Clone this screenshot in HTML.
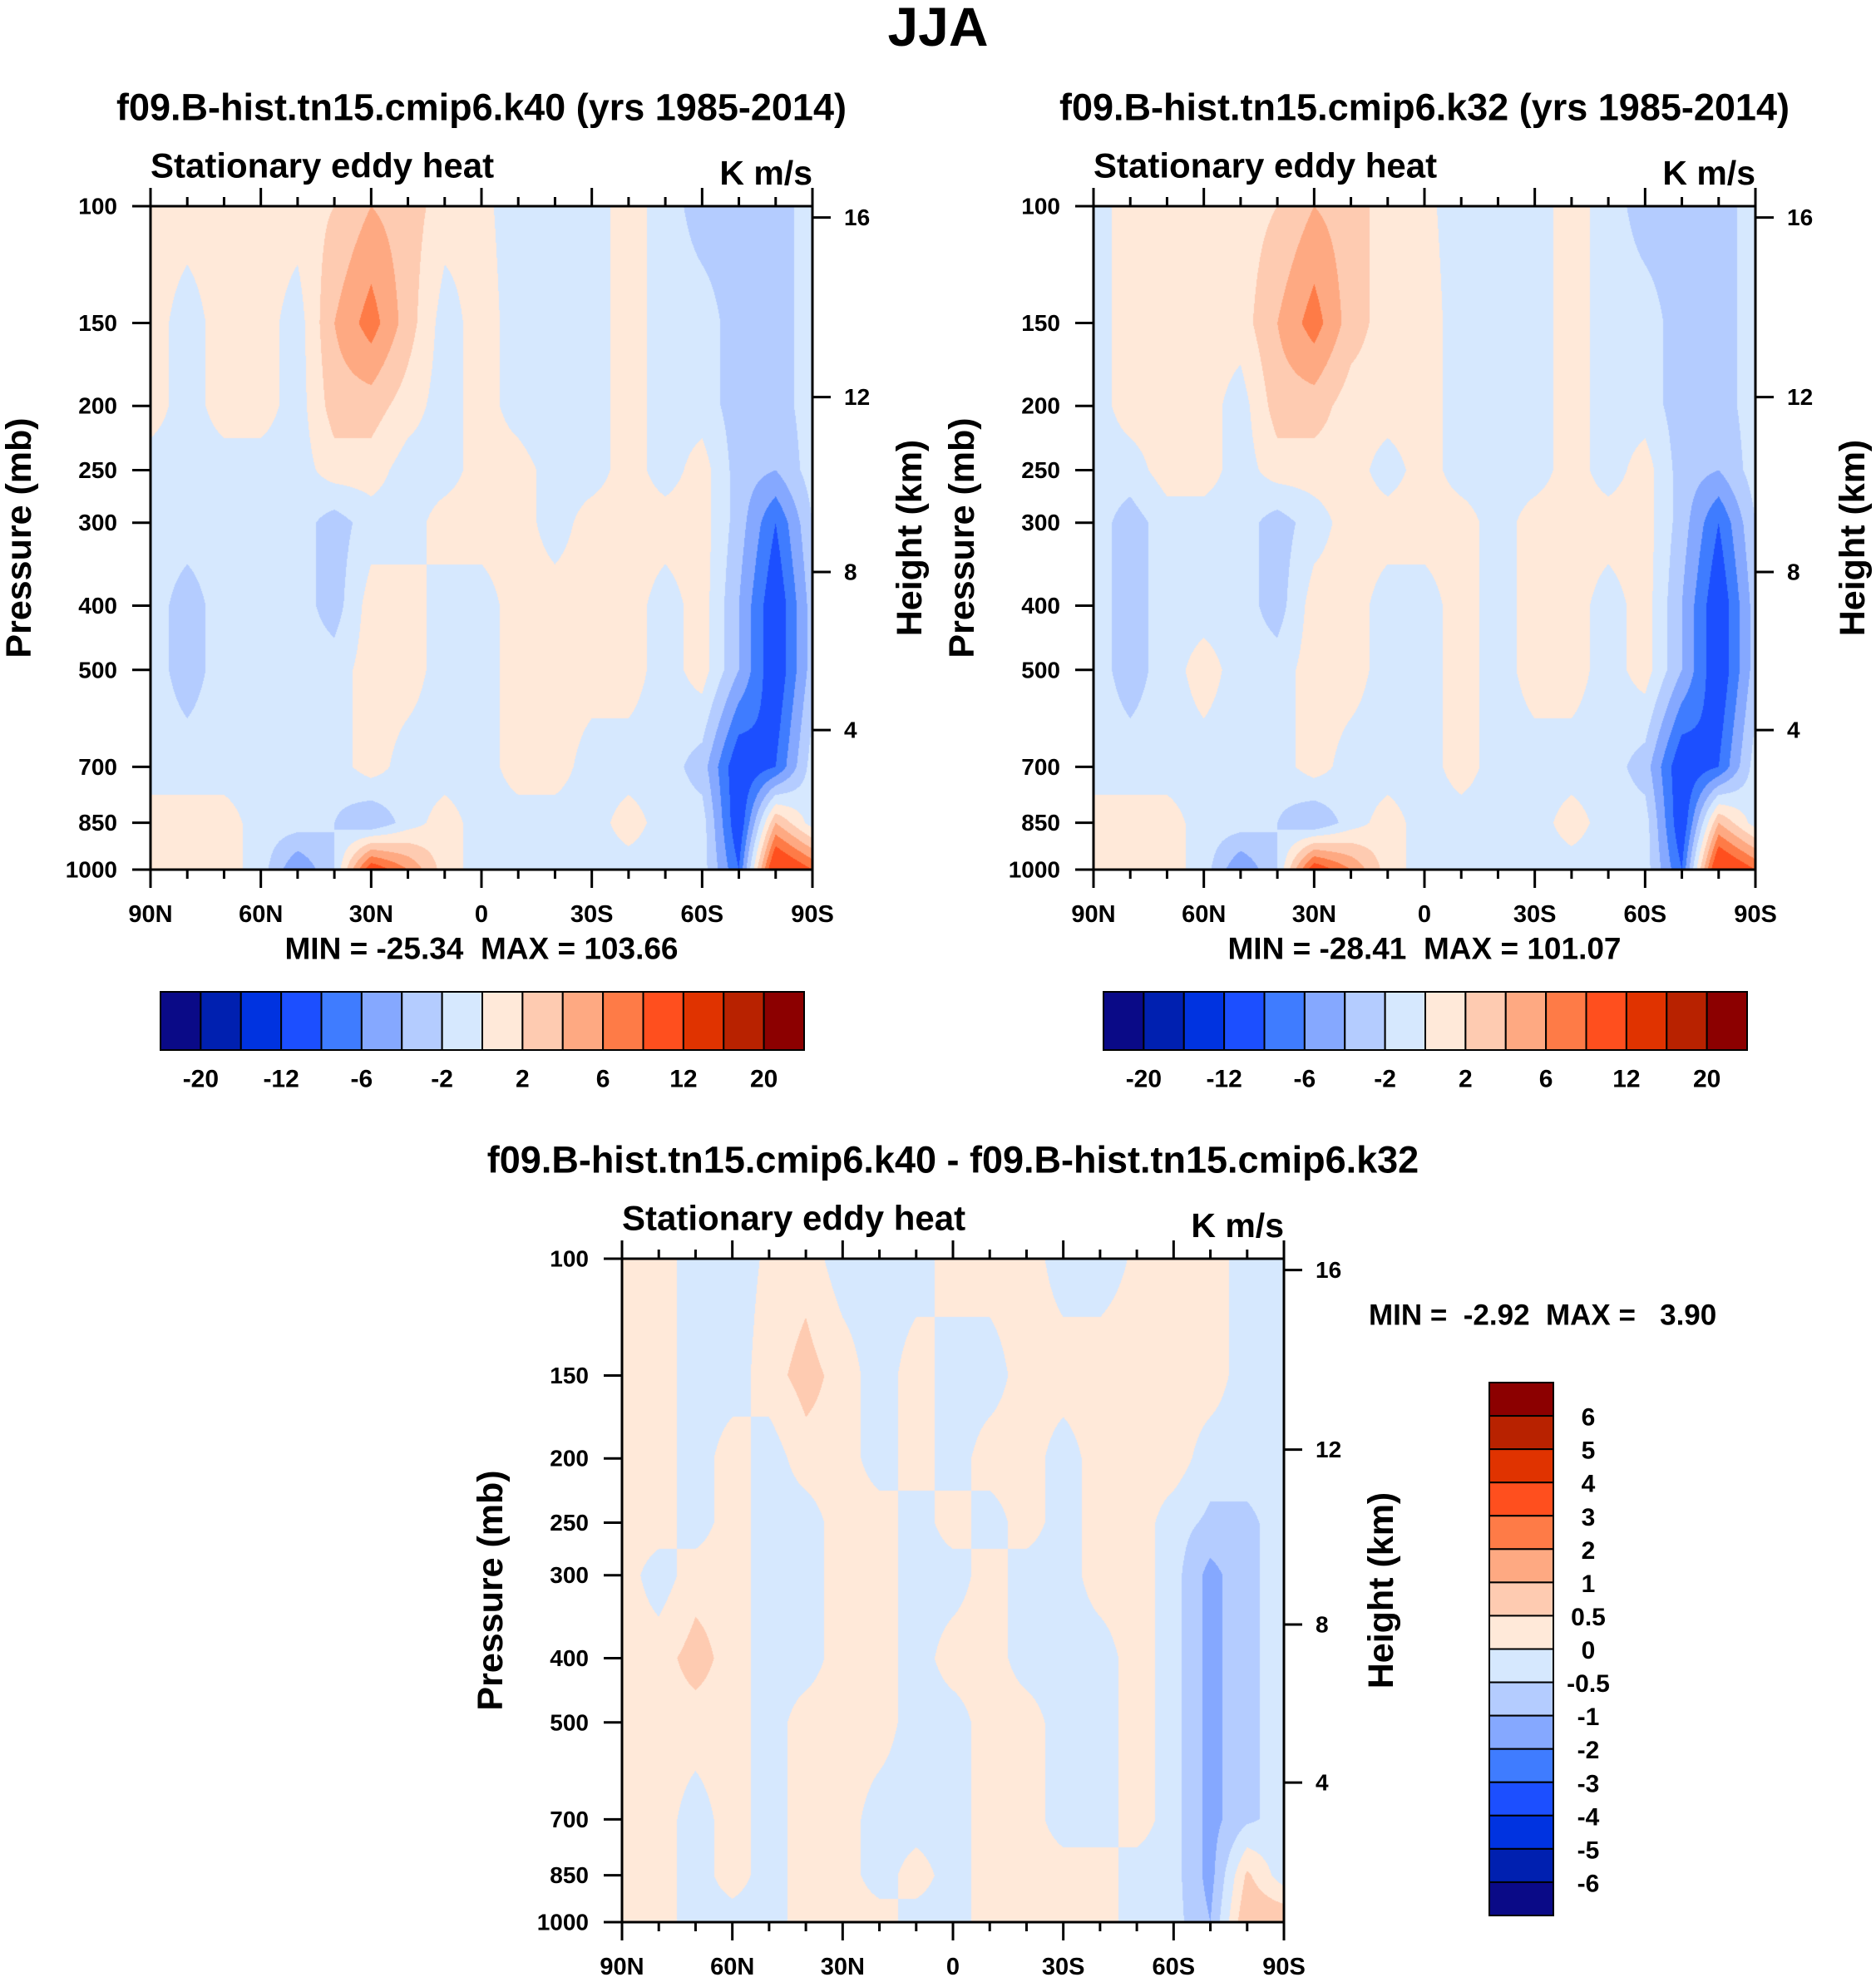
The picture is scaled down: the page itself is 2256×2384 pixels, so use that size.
<!DOCTYPE html>
<html><head><meta charset="utf-8"><style>
html,body{margin:0;padding:0;background:#fff}
#root{position:relative;width:2256px;height:2384px;overflow:hidden;font-family:"Liberation Sans",sans-serif}
canvas{position:absolute}
svg{position:absolute;left:0;top:0}
text{white-space:pre}
</style></head><body>
<div id="root">
<canvas id="c1"></canvas>
<canvas id="c2"></canvas>
<canvas id="c3"></canvas>
<svg id="svg" width="2256" height="2384"></svg>
</div>
<script>
// ---- data ----
const lats = [90,80,70,60,50,40,30,20,10,0,-10,-20,-30,-40,-50,-60,-70,-80,-90];
const pressures = [100,150,200,250,300,400,500,700,850,1000];
const latTickLabels = ["90N","60N","30N","0","30S","60S","90S"];
const pTicks = [100,150,200,250,300,400,500,700,850,1000];
const heightKm = [16,12,8,4];
const heightP = [104,194,356,616];
const colors = ["#0a0a87","#0020b0","#0033e0","#1c4fff","#3f7cff","#85a8ff","#b4ccff","#d6e8fe","#ffe9d9","#fecbb1","#fea982","#fe7b47","#ff4f1e","#e03300","#b82200","#8c0000"];
const levelsMain = [-20,-16,-12,-8,-6,-4,-2,0,2,4,6,8,12,16,20];
const levelsMainLabels = ["-20","-12","-6","-2","2","6","12","20"];
const levelsDiff = [-6,-5,-4,-3,-2,-1,-0.5,0,0.5,1,2,3,4,5,6];
const levelsDiffLabels = ["6","5","4","3","2","1","0.5","0","-0.5","-1","-2","-3","-4","-5","-6"];
const k40Field = [
[1,1,1,1,1,2,4,3,1,0.5,-1,-1,-1,1,-1,-3,-3,-3,-1],
[1,-1,1,1,-1,4,7,3,-1,1,-1,-1,-1,1,-1,-1,-3,-3,-1],
[1,-1,1,1,-1,3,3,1,-1,1,-1,-2,-1,1,-1,-1,-3,-3,-1],
[-1,-1,-1,-1,-1,1,1,-1,-1,1,1,-1,-1,1,-1,1,-3,-4,-1],
[-1,-1,-1,-1,-1,-3,-1,-1,1,1,1,-1,1,1,1,1,-3,-8,-2],
[-1,-3,-1,-1,-1,-3,1,1,-1,-1,1,1,1,1,-1,1,-4,-10,-3],
[-1,-3,-1,-1,-1,-1,1,1,-1,-1,1,1,1,1,-1,1,-4,-10,-3],
[-1,-1,-1,-1,-1,-1,1,-1,-1,-1,1,1,-1,-1,-1,-3,-10,-8,-1],
[1,1,1,-1,-1,-2,-4,-1,1,-1,-1,-1,-1,1,-1,-1,-10,4,-1],
[1,1,1,-1,-6,-2,10,6,1,-1,-2,-2,-1,-1,-1,-1,-8,12,8]];
const k32Field = [
[-1,1,1,1,1,2,4,3,1,0.5,-1,-1,-1,1,-1,-3,-3,-3,-1],
[-1,1,1,1,1,4,7,3,1,1,-1,-1,-1,1,-1,-1,-3,-3,-1],
[-1,1,1,1,-1,3,3,1,1,1,-1,-2,-1,1,-1,-1,-3,-3,-1],
[-1,-1,1,1,-1,1,1,1,-1,1,-1,-1,-1,1,-1,1,-3,-4,-1],
[-1,-3,-1,-1,-1,-3,-1,1,1,1,1,-1,1,1,1,1,-3,-8,-2],
[-1,-3,-1,-1,-1,-3,1,1,-1,-1,1,-1,1,1,-1,1,-4,-10,-3],
[-1,-3,-1,1,-1,-1,1,1,-1,-1,1,-1,1,1,-1,1,-4,-10,-3],
[-1,-1,-1,-1,-1,-1,1,-1,-1,-1,1,-1,-1,-1,-1,-3,-10,-8,-1],
[1,1,1,-1,-1,-2,-4,-1,1,-1,-1,-1,-1,1,-1,-1,-10,4,-1],
[1,1,1,-1,-6,-2,10,6,1,-1,-2,-2,-1,-1,-1,-1,-8,12,8]];
const diffField = [
[.3,.3,-.3,-.3,.1,.3,-.3,-.3,-.3,.3,.3,.3,-.3,-.3,.1,.3,.3,-.3,-.3],
[.3,.3,-.3,-.3,.3,.7,.3,-.3,.3,-.3,-.3,.3,.3,.3,.3,.3,.3,-.3,-.3],
[.3,.3,-.3,.3,-.3,.3,.3,-.3,.3,-.3,.3,.3,-.3,.3,.3,.3,-.3,-.3,-.3],
[.3,.3,-.3,.3,-.3,-.3,.3,.3,-.3,.3,-.3,.3,-.3,.3,.3,-.3,-.6,-.6,-.3],
[.3,-.3,.3,.3,-.3,-.3,.3,.3,-.3,-.3,.3,-.3,-.3,.3,.3,-.3,-1.2,-.6,-.3],
[.3,.3,.7,.3,-.3,-.3,.3,.3,-.3,.3,.3,-.3,-.3,-.3,.3,-.3,-1.2,-.6,-.3],
[.3,.3,.3,.3,-.3,.3,.3,.3,-.3,-.3,.3,.3,-.3,-.3,.3,-.3,-1.2,-.6,-.3],
[.3,.3,-.3,.3,-.3,.3,.3,-.3,-.3,-.3,.3,.3,-.3,-.3,.3,-.3,-1.2,-.6,-.3],
[.3,.3,-.3,.3,-.3,.3,.3,-.3,.3,-.3,.3,.3,.3,.3,-.3,-.3,-1.2,.6,-.3],
[.3,.3,-.3,-.3,-.3,.3,.3,.3,-.3,-.3,.3,.3,.3,.3,-.3,-.3,-1,1,1]];

// ---- rendering ----
const NS="http://www.w3.org/2000/svg";
const svg=document.getElementById('svg');
function mk(tag,attrs,parent){const e=document.createElementNS(NS,tag);for(const k in attrs)e.setAttribute(k,attrs[k]);(parent||svg).appendChild(e);return e;}
function txt(s,x,y,size,anchor,extra){const t=mk('text',Object.assign({x:x,y:y,'font-size':size,'font-weight':'bold','text-anchor':anchor||'middle','dominant-baseline':'central','font-family':'Liberation Sans, sans-serif',fill:'#000'},extra||{}));t.textContent=s;return t;}

function colorFor(v,levels){let i=0;while(i<levels.length&&v>=levels[i])i++;return colors[i];}
function hex(c){return [parseInt(c.slice(1,3),16),parseInt(c.slice(3,5),16),parseInt(c.slice(5,7),16)];}

function drawPanel(P){
  const W=P.r-P.l,H=P.b-P.t;
  const xOf=lat=>P.l+(90-lat)/180*W;
  const yOf=p=>P.t+(Math.log10(p)-2)*H;
  const cv=document.getElementById(P.canvas);
  cv.width=W;cv.height=H;cv.style.left=P.l+'px';cv.style.top=P.t+'px';
  const ctx=cv.getContext('2d');const img=ctx.createImageData(W,H);
  const lp=pressures.map(p=>Math.log10(p));
  for(let y=0;y<H;y++){
    const l=2+(y+0.5)/H;
    let j=0;while(j<lp.length-2&&l>lp[j+1])j++;
    let fy=(l-lp[j])/(lp[j+1]-lp[j]);fy=Math.max(0,Math.min(1,fy));
    for(let x=0;x<W;x++){
      const lat=90-(x+0.5)/W*180;
      let fi=(90-lat)/10;let i=Math.min(17,Math.floor(fi));let fx=fi-i;
      const F=P.field;
      const v=(F[j][i]*(1-fx)+F[j][i+1]*fx)*(1-fy)+(F[j+1][i]*(1-fx)+F[j+1][i+1]*fx)*fy;
      const c=hex(colorFor(v,P.levels));const k=(y*W+x)*4;
      img.data[k]=c[0];img.data[k+1]=c[1];img.data[k+2]=c[2];img.data[k+3]=255;
    }
  }
  ctx.putImageData(img,0,0);
  const fr=mk('rect',{x:P.l,y:P.t,width:W,height:H,fill:'none',stroke:'#000','stroke-width':3});
  
  
  for(let lat=90;lat>=-90;lat-=10){
    const x=xOf(lat);const major=lat%30===0;const L=major?22:11;
    mk('line',{x1:x,y1:P.t,x2:x,y2:P.t-L,stroke:'#000','stroke-width':3});
    mk('line',{x1:x,y1:P.b,x2:x,y2:P.b+L,stroke:'#000','stroke-width':3});
  }
  latTickLabels.forEach((s,i)=>{
    const t=txt(s,xOf(90-i*30),P.b+54,29);
    
    
  });
  pTicks.forEach(p=>{
    const y=yOf(p);
    mk('line',{x1:P.l,y1:y,x2:P.l-22,y2:y,stroke:'#000','stroke-width':3});
    const t=txt(String(p),P.l-40,y,28,'end');
    
    
  });
  heightKm.forEach((km,i)=>{
    const y=yOf(heightP[i]);
    mk('line',{x1:P.r,y1:y,x2:P.r+22,y2:y,stroke:'#000','stroke-width':3});
    const t=txt(String(km),P.r+38,y,28,'start');
    
    
  });
  let t=txt(P.title,(P.l+P.r)/2,P.t-119,45);
  
  
  t=txt('Stationary eddy heat',P.l,P.t-49,42,'start');
  
  
  t=txt('K m/s',P.r,P.t-40,41,'end');
  
  
  t=txt('Pressure (mb)',0,0,43,'middle',{transform:`translate(${P.l-158},${(P.t+P.b)/2}) rotate(-90)`});
  
  
  t=txt('Height (km)',0,0,43,'middle',{transform:`translate(${P.r+117},${(P.t+P.b)/2}) rotate(-90)`});
  
  
}

function hColorbar(x0,x1,y0,y1,levels,labels,id){
  const n=colors.length,bw=(x1-x0)/n;
  colors.forEach((c,i)=>{
    const r=mk('rect',{x:x0+i*bw,y:y0,width:bw,height:y1-y0,fill:c,stroke:'#000','stroke-width':2});
    
    
  });
  labels.forEach((s,k)=>{
    const t=txt(s,x0+(2*k+1)*bw,y1+35,30);
    
    
  });
}

drawPanel({id:'k40',canvas:'c1',l:181,r:977,t:248,b:1046,field:k40Field,levels:levelsMain,title:'f09.B-hist.tn15.cmip6.k40 (yrs 1985-2014)'});
drawPanel({id:'k32',canvas:'c2',l:1315,r:2111,t:248,b:1046,field:k32Field,levels:levelsMain,title:'f09.B-hist.tn15.cmip6.k32 (yrs 1985-2014)'});
drawPanel({id:'diff',canvas:'c3',l:748,r:1544,t:1514,b:2312,field:diffField,levels:levelsDiff,title:'f09.B-hist.tn15.cmip6.k40 - f09.B-hist.tn15.cmip6.k32'});

let t=txt('JJA',1128,32,66);


t=txt('MIN = -25.34  MAX = 103.66',579,1141,37);


t=txt('MIN = -28.41  MAX = 101.07',1713,1141,37);


t=txt('MIN =  -2.92  MAX =   3.90',1646,1582,35,'start');



hColorbar(193,967,1193,1263,levelsMain,levelsMainLabels,'k40-colorbar');
hColorbar(1327,2101,1193,1263,levelsMain,levelsMainLabels,'k32-colorbar');
(function(){
  const x0=1791,x1=1868,y0=1663,y1=2304,n=colors.length,bh=(y1-y0)/n;
  for(let i=0;i<n;i++){
    const r=mk('rect',{x:x0,y:y0+i*bh,width:x1-x0,height:bh,fill:colors[n-1-i],stroke:'#000','stroke-width':2});
    
    
  }
  levelsDiffLabels.forEach((s,k)=>{
    const t=txt(s,1910,y0+(k+1)*bh+2,30);
    
    
  });
})();
</script>
</body></html>
